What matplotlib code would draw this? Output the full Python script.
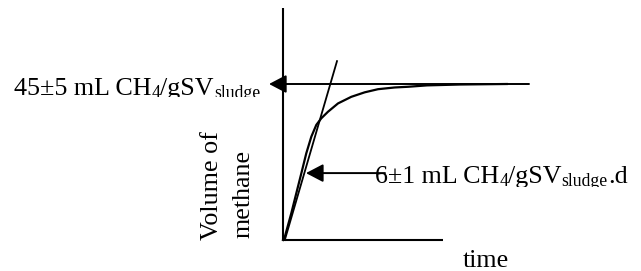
"""Schematic of methane production: cumulative volume vs time with plateau and slope."""

import matplotlib
matplotlib.use("Agg")
import matplotlib.pyplot as plt
from matplotlib.transforms import Bbox, TransformedBbox

plt.rcParams["font.family"] = ["Liberation Serif", "DejaVu Serif"]

# cumulative methane curve (days, mL CH4/gSV)
time_days = [0.0, 0.3, 1.38, 2.22, 3.05, 3.88, 4.72, 5.55, 6.38, 7.5, 9.17,
             11.38, 13.62, 15.83, 18.62, 20.83, 24.0, 29.5, 37.3]
methane_ml = [0.0, 0.9, 7.7, 13.5, 19.2, 25.0, 29.8, 33.2, 35.1, 37.0, 39.4,
              41.3, 42.6, 43.5, 44.0, 44.2, 44.6, 44.85, 45.0]

# initial slope tangent (about 6 mL/d)
tangent_t = [0.3, 9.0]
tangent_v = [0.0, 51.6]

plateau_v = 45.0
plateau_end = 41.0
slope_point = (3.83, 19.3)

x_axis_end = 26.7
y_axis_top = 67.0

# label pieces: (text, is_subscript)
plateau_label = [("45±5 mL CH", False), ("4", True), ("/gSV", False), ("sludge", True)]
slope_label = [("6±1 mL CH", False), ("4", True), ("/gSV", False), ("sludge", True), (".d", False)]

fig = plt.figure(figsize=(6.41, 2.71), dpi=100)
ax = fig.add_axes([0, 0, 1, 1])
ax.set_xlim(-283 / 6, (641 - 283) / 6)
ax.set_ylim(-31 / 3.4667, 240 / 3.4667)
ax.axis("off")

lw = 1.5
ax.plot([0, 0], [0, y_axis_top], color="black", lw=lw, solid_capstyle="butt")
ax.plot([0, x_axis_end], [0, 0], color="black", lw=lw, solid_capstyle="butt")

ax.plot(time_days, methane_ml, color="black", lw=1.6, solid_joinstyle="round")
ax.plot(tangent_t, tangent_v, color="black", lw=1.3)

arrow = dict(arrowstyle="-|>,head_length=1.05,head_width=0.55",
             color="black", lw=1.4, mutation_scale=10, shrinkA=0, shrinkB=0)
ax.annotate("", xy=(-2.33, plateau_v), xytext=(plateau_end, plateau_v),
            arrowprops=arrow)
ax.annotate("", xy=slope_point, xytext=(17.0, slope_point[1]),
            arrowprops=arrow)

fs = 18.7
fs_sub = 12.7


def draw_label(x_px, base_px, pieces, clip_px):
    """Write a label made of normal and subscript pieces, clipped below clip_px."""
    clip = TransformedBbox(Bbox.from_extents(0, 1 - clip_px / 271, 1, 1), fig.transFigure)
    first = ax.text(x_px / 641, 1 - base_px / 271, pieces[0][0],
                    transform=fig.transFigure, fontsize=fs, ha="left", va="baseline")
    first.set_clip_box(clip)
    first.set_clip_on(True)
    prev = first
    for text, is_sub in pieces[1:]:
        t = ax.annotate(text, xy=(1, 0), xycoords=(prev, first),
                        xytext=(0, -1.2 if is_sub else 0), textcoords="offset points",
                        fontsize=fs_sub if is_sub else fs, ha="left", va="bottom")
        t.set_clip_box(clip)
        t.set_clip_on(True)
        prev = t


draw_label(14, 95, plateau_label, 97)
draw_label(375, 183, slope_label, 187)

ax.text(463 / 641, 1 - 267 / 271, "time", transform=fig.transFigure,
        fontsize=fs, ha="left", va="baseline")

ax.text(218 / 641, 1 - 186 / 271, "Volume of", transform=fig.transFigure,
        fontsize=fs, rotation=90, rotation_mode="anchor", ha="center", va="baseline")
ax.text(250 / 641, 1 - 194 / 271, "methane", transform=fig.transFigure,
        fontsize=fs, rotation=90, rotation_mode="anchor", ha="center", va="baseline")

fig.savefig("out.png", dpi=100)
